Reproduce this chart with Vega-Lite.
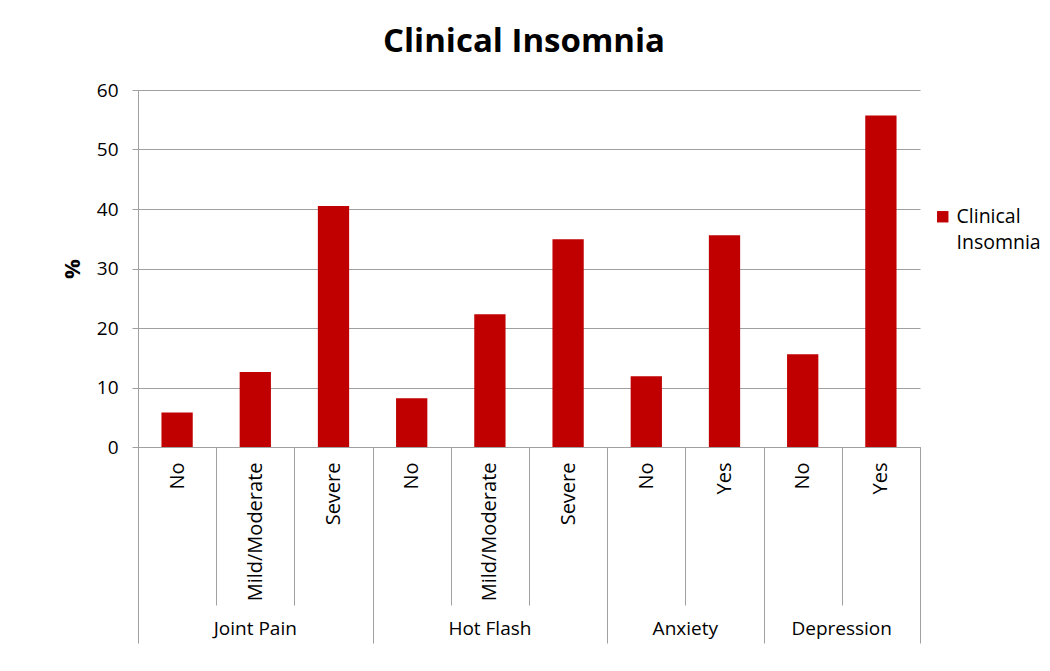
{
  "$schema": "https://vega.github.io/schema/vega-lite/v6.json",
  "width": 782,
  "height": 357,
  "autosize": "none",
  "padding": {"left": 138, "top": 90, "right": 130, "bottom": 224},
  "background": "white",
  "title": {"text": "Clinical Insomnia", "fontSize": 33, "fontWeight": "bold", "font": "Open Sans", "color": "black", "anchor": "middle", "offset": 22, "dx": -5},
  "data": {"values": [
    {"item": "Joint Pain|No", "group": "Joint Pain", "level": "No", "value": 5.8},
    {"item": "Joint Pain|Mild/Moderate", "group": "Joint Pain", "level": "Mild/Moderate", "value": 12.6},
    {"item": "Joint Pain|Severe", "group": "Joint Pain", "level": "Severe", "value": 40.5},
    {"item": "Hot Flash|No", "group": "Hot Flash", "level": "No", "value": 8.2},
    {"item": "Hot Flash|Mild/Moderate", "group": "Hot Flash", "level": "Mild/Moderate", "value": 22.3},
    {"item": "Hot Flash|Severe", "group": "Hot Flash", "level": "Severe", "value": 34.9},
    {"item": "Anxiety|No", "group": "Anxiety", "level": "No", "value": 11.9},
    {"item": "Anxiety|Yes", "group": "Anxiety", "level": "Yes", "value": 35.6},
    {"item": "Depression|No", "group": "Depression", "level": "No", "value": 15.6},
    {"item": "Depression|Yes", "group": "Depression", "level": "Yes", "value": 55.7}
  ]},
  "layer": [
    {
      "mark": {"type": "bar", "color": "#C00000", "width": {"band": 0.4}},
      "encoding": {
        "x": {"field": "item", "type": "nominal", "sort": null,
          "scale": {"paddingInner": 0, "paddingOuter": 0},
          "axis": {"orient": "bottom", "title": null, "labelAngle": -90, "labelExpr": "split(datum.value, '|')[1]",
            "tickBand": "extent", "tickSize": 158,
            "tickColor": "#A0A0A0", "domainColor": "#A0A0A0", "labelPadding": -143,
            "labelFont": "Open Sans", "labelFontSize": 20, "labelColor": "black", "labelOverlap": false}},
        "y": {"field": "value", "type": "quantitative",
          "scale": {"domain": [0, 60]},
          "axis": {"title": "%", "values": [0, 10, 20, 30, 40, 50, 60], "titleFont": "Open Sans", "titleFontSize": 22, "titleFontWeight": "bold", "titleColor": "black", "titlePadding": 12,
            "labelFont": "Open Sans", "labelFontSize": 19, "labelColor": "black", "labelPadding": 14,
            "tickSize": 6, "tickColor": "#A0A0A0", "domainColor": "#A0A0A0", "gridColor": "#A0A0A0", "gridOpacity": 1}},
        "color": {"datum": "Clinical Insomnia", "type": "nominal",
          "scale": {"range": ["#C00000"]},
          "legend": {"title": null, "orient": "none", "legendX": 795, "legendY": 117, "symbolType": "square", "symbolSize": 130, "symbolStrokeWidth": 0,
            "labelFont": "Open Sans", "labelFontSize": 19.5, "labelColor": "black", "labelExpr": "['Clinical', 'Insomnia']",
            "encode": {"labels": {"update": {"lineHeight": {"value": 26}}}}}}
      }
    },
    {
      "mark": {"type": "bar", "opacity": 0},
      "encoding": {
        "x": {"field": "item", "type": "nominal", "sort": null,
          "axis": {"orient": "bottom", "title": null, "values": ["Joint Pain|Mild/Moderate", "Hot Flash|Mild/Moderate"], "ticks": false, "domain": false,
            "labelExpr": "split(datum.value, '|')[0]", "labelAngle": 0, "labelPadding": 172,
            "labelFont": "Open Sans", "labelFontSize": 19, "labelColor": "black", "labelOverlap": false}}
      }
    },
    {
      "mark": {"type": "bar", "opacity": 0},
      "encoding": {
        "x": {"field": "item", "type": "nominal", "sort": null,
          "axis": {"orient": "bottom", "title": null, "values": ["Anxiety|No", "Depression|No"], "labelOffset": 39,
            "ticks": false, "domain": false,
            "labelExpr": "split(datum.value, '|')[0]", "labelAngle": 0, "labelPadding": 172,
            "labelFont": "Open Sans", "labelFontSize": 19, "labelColor": "black", "labelOverlap": false}}
      }
    },
    {
      "mark": {"type": "bar", "opacity": 0},
      "encoding": {
        "x": {"field": "item", "type": "nominal", "sort": null,
          "axis": {"orient": "bottom", "title": null, "values": ["Joint Pain|No", "Joint Pain|Severe", "Hot Flash|Severe", "Anxiety|Yes", "Depression|Yes"], "tickBand": "extent",
            "ticks": true, "tickSize": {"condition": {"test": "datum.value == 'Joint Pain|No'", "value": 0}, "value": 196},
            "tickColor": "#A0A0A0", "domain": false, "labels": false}}
      }
    }
  ],
  "resolve": {"axis": {"x": "independent"}},
  "config": {"view": {"stroke": null}}
}
